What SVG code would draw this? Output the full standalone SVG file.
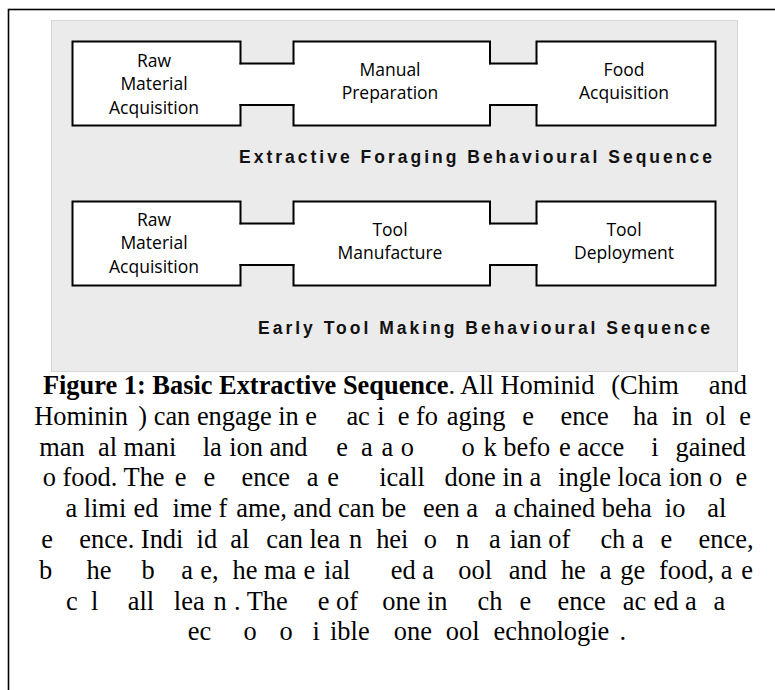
<svg xmlns="http://www.w3.org/2000/svg" width="775" height="690" viewBox="0 0 775 690">
<style>
.frame{fill:none;stroke:#000;stroke-width:1.6}
.panel{fill:#ebebeb;stroke:#d6d6d6;stroke-width:1}
.fill{fill:#fff;stroke:none}
.edge{fill:none;stroke:#000;stroke-width:2;stroke-linecap:square;stroke-linejoin:miter}
.lbl{font-family:"Open Sans","Noto Sans",sans-serif;font-size:17.5px;fill:#000;text-anchor:middle}
.head{font-family:"Liberation Sans",Arial,sans-serif;font-weight:bold;font-size:17.5px;letter-spacing:3px;fill:#111}
.cap{font-family:"Liberation Serif","Times New Roman",serif;font-size:26.4px;fill:#000}
</style>
<rect class="frame" x="8.5" y="9.5" width="800" height="700"/>
<rect class="panel" x="51.5" y="20.5" width="686" height="351"/>

<g id="n-raw1"><rect class="fill" x="72.5" y="41.5" width="168" height="84"/><path class="edge" d="M240.5,63.5V41.5H72.5V125.5H240.5V105"/><text class="lbl" x="154" y="67">Raw</text><text class="lbl" x="154" y="90.3">Material</text><text class="lbl" x="154" y="113.6">Acquisition</text></g>
<g id="n-manual"><rect class="fill" x="293.5" y="41.5" width="196.5" height="84"/><path class="edge" d="M293.5,63.5V41.5H490V63.5M293.5,105V125.5H490V105"/><text class="lbl" x="390" y="75.7">Manual</text><text class="lbl" x="390" y="99">Preparation</text></g>
<g id="n-food"><rect class="fill" x="536.5" y="41.5" width="179" height="84"/><path class="edge" d="M536.5,63.5V41.5H715.5V125.5H536.5V105"/><text class="lbl" x="624" y="75.7">Food</text><text class="lbl" x="624" y="99">Acquisition</text></g>

<g id="n-raw2"><rect class="fill" x="72.5" y="201.5" width="168" height="84"/><path class="edge" d="M240.5,223.5V201.5H72.5V285.5H240.5V265"/><text class="lbl" x="154" y="226">Raw</text><text class="lbl" x="154" y="249.3">Material</text><text class="lbl" x="154" y="272.6">Acquisition</text></g>
<g id="n-manufacture"><rect class="fill" x="293.5" y="201.5" width="196.5" height="84"/><path class="edge" d="M293.5,223.5V201.5H490V223.5M293.5,265V285.5H490V265"/><text class="lbl" x="390" y="235.7">Tool</text><text class="lbl" x="390" y="259">Manufacture</text></g>
<g id="n-deploy"><rect class="fill" x="536.5" y="201.5" width="179" height="84"/><path class="edge" d="M536.5,223.5V201.5H715.5V285.5H536.5V265"/><text class="lbl" x="624" y="235.7">Tool</text><text class="lbl" x="624" y="259">Deployment</text></g>

<g id="connectors">
<rect class="fill" x="240" y="64.5" width="54" height="39.5"/><path class="edge" d="M240.5,63.5H293.5M240.5,105H293.5"/>
<rect class="fill" x="489.5" y="64.5" width="47.5" height="39.5"/><path class="edge" d="M490,63.5H536.5M490,105H536.5"/>
<rect class="fill" x="240" y="224.5" width="54" height="39.5"/><path class="edge" d="M240.5,223.5H293.5M240.5,265H293.5"/>
<rect class="fill" x="489.5" y="224.5" width="47.5" height="39.5"/><path class="edge" d="M490,223.5H536.5M490,265H536.5"/>
</g>

<text class="head" x="239" y="163">Extractive Foraging Behavioural Sequence</text>
<text class="head" x="258" y="334">Early Tool Making Behavioural Sequence</text>

<g id="caption">
<text class="cap" x="42.9" y="394"><tspan font-weight="bold">Figure 1: Basic Extractive Sequence</tspan>. All Hominid<tspan dx="10.27"> (Chim</tspan><tspan dx="23.47"> and</tspan></text>
<text class="cap" x="34.2" y="424.8">Hominin<tspan dx="3.67"> ) can engage in e</tspan><tspan dx="22.73"> ac</tspan><tspan dx="0.74"> i</tspan><tspan dx="6.6"> e fo</tspan><tspan dx="2.19"> aging</tspan><tspan dx="10.27"> e</tspan><tspan dx="19.8"> ence</tspan><tspan dx="17.61"> ha</tspan><tspan dx="7.34"> in</tspan><tspan dx="6.6"> ol</tspan><tspan dx="6.6"> e</tspan></text>
<text class="cap" x="39.3" y="455.6">man<tspan dx="6.6"> al mani</tspan><tspan dx="19.8"> la</tspan><tspan dx="0.74"> ion and</tspan><tspan dx="21.99"> e</tspan><tspan dx="6.6"> a</tspan><tspan dx="2.19"> a</tspan><tspan dx="0.74"> o</tspan><tspan dx="41.05"> o</tspan><tspan dx="2.19"> k befo</tspan><tspan dx="2.19"> e acce</tspan><tspan dx="20.54"> i</tspan><tspan dx="10.27"> gained</tspan></text>
<text class="cap" x="42.64" y="486.4">o food. The<tspan dx="3.67"> e</tspan><tspan dx="10.27"> e</tspan><tspan dx="19.8"> ence</tspan><tspan dx="10.27"> a</tspan><tspan dx="2.19"> e</tspan><tspan dx="33.74"> icall</tspan><tspan dx="13.2"> done in a</tspan><tspan dx="10.27"> ingle loca</tspan><tspan dx="0.74"> ion o</tspan><tspan dx="6.6"> e</tspan></text>
<text class="cap" x="65.4" y="517.2">a limi<tspan dx="0.74"> ed</tspan><tspan dx="7.34"> ime f</tspan><tspan dx="2.19"> ame, and can be</tspan><tspan dx="10.27"> een a</tspan><tspan dx="10.27"> a chained beha</tspan><tspan dx="6.6"> io</tspan><tspan dx="15.39"> al</tspan></text>
<text class="cap" x="41.2" y="548">e<tspan dx="19.8"> ence. Indi</tspan><tspan dx="6.6"> id</tspan><tspan dx="6.6"> al</tspan><tspan dx="10.27"> can lea</tspan><tspan dx="2.19"> n</tspan><tspan dx="7.34"> hei</tspan><tspan dx="8.79"> o</tspan><tspan dx="12.46"> n</tspan><tspan dx="13.2"> a</tspan><tspan dx="2.19"> ian of</tspan><tspan dx="23.47"> ch a</tspan><tspan dx="10.27"> e</tspan><tspan dx="19.8"> ence,</tspan></text>
<text class="cap" x="38.9" y="578.8">b<tspan dx="27.88"> he</tspan><tspan dx="23.47"> b</tspan><tspan dx="19.8"> a</tspan><tspan dx="0.74"> e,</tspan><tspan dx="7.34"> he ma</tspan><tspan dx="0.74"> e</tspan><tspan dx="2.19"> ial</tspan><tspan dx="33.74"> ed a</tspan><tspan dx="17.61"> ool</tspan><tspan dx="10.27"> and</tspan><tspan dx="7.34"> he</tspan><tspan dx="7.34"> a</tspan><tspan dx="2.19"> ge</tspan><tspan dx="7.34"> food, a</tspan><tspan dx="2.19"> e</tspan></text>
<text class="cap" x="66.1" y="609.6">c<tspan dx="6.6"> l</tspan><tspan dx="22.73"> all</tspan><tspan dx="13.2"> lea</tspan><tspan dx="2.19"> n</tspan><tspan dx="0.74"> . The</tspan><tspan dx="23.47"> e of</tspan><tspan dx="17.61"> one in</tspan><tspan dx="23.47"> ch</tspan><tspan dx="10.27"> e</tspan><tspan dx="19.8"> ence</tspan><tspan dx="10.27"> ac</tspan><tspan dx="0.74"> ed a</tspan><tspan dx="10.27"> a</tspan></text>
<text class="cap" x="187.8" y="640.4">ec<tspan dx="25.66"> o</tspan><tspan dx="16.13"> o</tspan><tspan dx="13.2"> i</tspan><tspan dx="3.67"> ible</tspan><tspan dx="17.61"> one</tspan><tspan dx="7.34"> ool</tspan><tspan dx="7.34"> echnologie</tspan><tspan dx="3.67"> .</tspan></text>
</g>
</svg>
